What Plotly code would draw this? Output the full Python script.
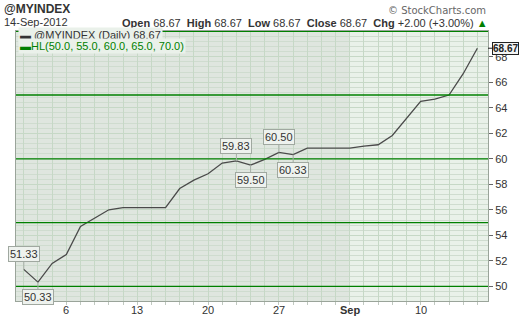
import plotly.graph_objects as go

# ---- data ----
dates = ["Aug 1", "Aug 2", "Aug 3", "Aug 6", "Aug 7", "Aug 8", "Aug 9", "Aug 10",
         "Aug 13", "Aug 14", "Aug 15", "Aug 16", "Aug 17", "Aug 20", "Aug 21", "Aug 22",
         "Aug 23", "Aug 24", "Aug 27", "Aug 28", "Aug 29", "Aug 30", "Aug 31",
         "Sep 3", "Sep 4", "Sep 5", "Sep 6", "Sep 7", "Sep 10", "Sep 11", "Sep 12",
         "Sep 13", "Sep 14"]
close = [51.33, 50.33, 51.80, 52.50, 54.70, 55.33, 56.00, 56.17,
         56.17, 56.17, 56.17, 57.67, 58.33, 58.83, 59.67, 59.83,
         59.50, 59.95, 60.50, 60.33, 60.83, 60.83, 60.83,
         60.83, 61.00, 61.10, 61.83, 63.20, 64.50, 64.67, 65.00,
         66.67, 68.67]
hl_levels = [50.0, 55.0, 60.0, 65.0, 70.0]
tick_dates = {"Aug 6": "6", "Aug 13": "13", "Aug 20": "20", "Aug 27": "27",
              "Sep 3": "<b>Sep</b>", "Sep 10": "10"}
y_ticks = [50, 52, 54, 56, 58, 60, 62, 64, 66, 68]
# labelled points: (date, position "above"/"below")
labelled = [("Aug 1", "above"), ("Aug 2", "below"), ("Aug 22", "above"),
            ("Aug 23", "below"), ("Aug 27", "above"), ("Aug 28", "below")]

idx = list(range(len(dates)))
W, H = 520, 318
ML, MR, MT, MB = 16, 32, 31, 17
PW, PH = W - ML - MR, H - MT - MB

def px(x):
    return (x - ML) / PW

def py(y):
    return (H - MB - y) / PH

FONT = "Liberation Sans, Arial, sans-serif"

fig = go.Figure()
fig.add_trace(go.Scatter(x=idx, y=close, mode="lines",
                         line=dict(color="#4a4a4a", width=1.3),
                         hoverinfo="skip", showlegend=False))

shapes = []
# darker shading for August
sep_i = dates.index("Sep 3")
shapes.append(dict(type="rect", xref="x", yref="paper", x0=-0.55, x1=sep_i,
                   y0=0, y1=1, fillcolor="#dfe6df", line=dict(width=0), layer="below"))
for lv in hl_levels:
    shapes.append(dict(type="line", xref="paper", yref="y", x0=0, x1=1, y0=lv, y1=lv,
                       line=dict(color="#008000", width=1.3), layer="above"))

ann = []
# header
ann.append(dict(text="<b>@MYINDEX</b>", x=px(2), y=py(9), xref="paper", yref="paper",
                xanchor="left", yanchor="middle", showarrow=False,
                font=dict(family=FONT, size=12, color="#333333")))
ann.append(dict(text="14-Sep-2012", x=px(2), y=py(22), xref="paper", yref="paper",
                xanchor="left", yanchor="middle", showarrow=False,
                font=dict(family=FONT, size=11, color="#333333")))
last = close[-1]
prev = close[-2]
chg = last - prev
pct = chg / prev * 100
hdr = ("<b>Open</b> %.2f  <b>High</b> %.2f  <b>Low</b> %.2f  <b>Close</b> %.2f  "
       "<b>Chg</b> %+.2f (%+.2f%%) <span style='color:#008000'>▲</span>"
       % (last, last, last, last, chg, pct))
ann.append(dict(text=hdr, x=px(490), y=py(23), xref="paper", yref="paper",
                xanchor="right", yanchor="middle", showarrow=False,
                font=dict(family=FONT, size=11, color="#333333")))
ann.append(dict(text="© StockCharts.com", x=px(488), y=py(11), xref="paper", yref="paper",
                xanchor="right", yanchor="middle", showarrow=False,
                font=dict(family="DejaVu Sans, sans-serif", size=10, color="#666666")))
# legend box
ann.append(dict(text="<span style='color:#333333'>▬</span> @MYINDEX (Daily) %.2f" % last,
                x=px(18), y=py(35), xref="paper", yref="paper",
                xanchor="left", yanchor="middle", showarrow=False,
                bgcolor="#eaf1ea",
                font=dict(family=FONT, size=11, color="#333333")))
ann.append(dict(text="<span style='color:#008000'>▬</span>HL(%s)" %
                ", ".join("%.1f" % v for v in hl_levels),
                x=px(18), y=py(46), xref="paper", yref="paper",
                xanchor="left", yanchor="middle", showarrow=False,
                bgcolor="#eaf1ea",
                font=dict(family=FONT, size=11, color="#008000")))
# point labels
for d, pos in labelled:
    i = dates.index(d)
    ann.append(dict(text="%.2f" % close[i], x=i, y=close[i], xref="x", yref="y",
                    showarrow=True, arrowhead=0, arrowwidth=1, arrowcolor="#a8b0a8",
                    ax=0, ay=(-15 if pos == "above" else 15),
                    bgcolor="#eef2ee", bordercolor="#a0a8a0", borderwidth=1, borderpad=1,
                    font=dict(family=FONT, size=11, color="#333333")))
# last value tag
ann.append(dict(text="<b>%.2f</b>" % last, x=1, y=last, xref="paper", yref="y",
                showarrow=True, arrowhead=0, arrowwidth=1, arrowcolor="#222222",
                ax=17, ay=0,
                bgcolor="#f4f4f4", bordercolor="#222222", borderwidth=1, borderpad=0,
                font=dict(family=FONT, size=10, color="#222222")))
# x tick labels
for d, lab in tick_dates.items():
    ann.append(dict(text=lab, x=dates.index(d), y=py(310), xref="x", yref="paper",
                    xanchor="center", yanchor="middle", showarrow=False,
                    font=dict(family=FONT, size=11, color="#333333")))

fig.update_layout(
    width=W, height=H,
    margin=dict(l=ML, r=MR, t=MT, b=MB, pad=0),
    paper_bgcolor="white", plot_bgcolor="#e9f1e9",
    shapes=shapes, annotations=ann,
    xaxis=dict(range=[-0.55, 32.75], tickvals=idx, ticktext=[""] * len(idx),
               showgrid=True, gridcolor="#c6d8c6", gridwidth=1,
               ticks="outside", ticklen=3, tickcolor="#c0c8c0",
               showline=True, linecolor="#9aa49a", mirror=True, zeroline=False),
    yaxis=dict(side="right", range=[48.85, 70.02], tickvals=y_ticks,
               ticktext=[str(v) for v in y_ticks],
               showgrid=True, gridcolor="#c6d8c6",
               minor=dict(tick0=50, dtick=0.4, showgrid=True, gridcolor="#cfdccf"),
               ticks="outside", ticklen=4, tickcolor="#666666",
               tickfont=dict(family=FONT, size=11, color="#333333"),
               showline=True, linecolor="#9aa49a", mirror=True, zeroline=False),
    showlegend=False,
)

fig.write_html("out.html")
